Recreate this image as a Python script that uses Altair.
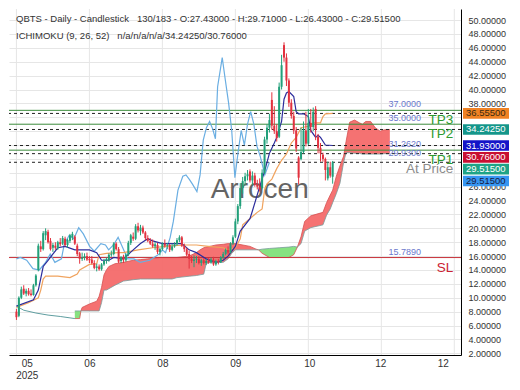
import altair as alt
import pandas as pd

# ---------------- data ----------------
opens = [8.0, 7.4, 10.0, 11.3, 10.6, 11.0, 10.6, 10.4, 11.8, 14.0,
         17.4, 17.0, 19.0, 19.5, 18.2, 17.2, 17.5, 17.1, 18.0, 17.8,
         18.5, 17.6, 18.2, 18.7, 18.8, 17.5, 16.4, 15.6, 15.8, 16.0,
         15.6, 15.5, 15.0, 14.3, 14.5, 14.1, 14.8, 15.3, 15.4, 16.2,
         16.3, 17.8, 17.0, 15.3, 15.9, 15.4, 16.2, 17.9, 18.8, 18.5,
         20.3, 19.6, 20.1, 19.4, 18.6, 18.2, 17.8, 17.4, 17.6, 16.6,
         17.0, 17.8, 17.5, 17.6, 16.9, 17.4, 17.7, 18.3, 18.7, 17.5,
         17.0, 16.3, 15.6, 15.3, 15.5, 15.6, 15.0, 15.4, 15.0, 15.3,
         15.1, 15.5, 14.8, 15.3, 15.1, 15.8, 16.3, 16.9, 16.5, 17.8,
         18.8, 21.0, 23.2, 25.8, 26.8, 27.5, 28.2, 26.9, 27.6, 26.3,
         26.0, 25.8, 28.0, 32.8, 34.5, 38.5, 34.8, 34.0, 33.2, 40.4,
         46.4, 44.6, 41.3, 38.1, 36.2, 34.1, 30.2, 30.0, 31.0, 34.1,
         32.2, 35.2, 34.6, 37.2, 33.2, 31.6, 30.6, 30.0, 27.2, 28.8,
         27.43]
highs = [8.4, 10.2, 11.6, 11.8, 11.3, 11.4, 11.2, 12.0, 13.4, 17.8,
         18.2, 19.6, 20.0, 19.8, 18.6, 17.9, 18.0, 18.2, 18.6, 18.9,
         18.8, 18.5, 19.2, 19.5, 19.0, 17.8, 16.6, 16.5, 16.4, 16.5,
         16.0, 16.0, 15.4, 14.9, 14.8, 15.0, 15.6, 15.8, 16.4, 16.8,
         18.0, 18.0, 17.3, 16.0, 16.2, 16.4, 18.2, 19.2, 19.4, 20.6,
         20.8, 20.5, 20.4, 19.6, 19.0, 18.6, 18.4, 18.0, 17.9, 17.2,
         18.0, 18.4, 17.9, 17.8, 17.8, 18.0, 18.6, 19.0, 18.9, 17.8,
         17.2, 16.8, 16.0, 16.1, 16.0, 16.0, 15.6, 15.7, 15.6, 15.7,
         15.8, 15.9, 15.5, 15.6, 16.0, 16.6, 17.1, 17.4, 18.0, 19.0,
         21.4, 23.5, 26.5, 27.4, 28.0, 28.4, 28.5, 28.2, 28.0, 27.0,
         27.2, 28.5, 33.2, 35.0, 36.5, 39.6, 37.6, 35.0, 41.0, 45.0,
         46.8, 45.2, 41.6, 38.6, 36.8, 34.6, 30.4, 34.5, 35.4, 36.8,
         37.2, 37.2, 37.4, 37.6, 33.6, 32.3, 30.9, 30.2, 29.6, 29.6,
         29.71]
lows = [6.8, 7.2, 9.8, 10.4, 10.2, 10.3, 10.2, 10.3, 11.6, 13.8,
        16.6, 16.8, 18.3, 17.8, 16.8, 16.6, 16.9, 16.9, 17.4, 17.6,
        17.4, 17.2, 17.9, 18.3, 17.6, 16.0, 14.9, 15.3, 15.4, 15.3,
        15.0, 14.8, 14.1, 13.8, 13.9, 13.9, 14.6, 14.9, 15.2, 15.9,
        16.1, 16.8, 15.0, 15.0, 15.0, 15.2, 16.0, 17.6, 18.2, 18.3,
        19.4, 19.0, 19.2, 18.3, 18.0, 17.6, 17.2, 16.9, 16.3, 16.1,
        16.8, 17.2, 17.0, 16.6, 16.7, 17.2, 17.5, 18.0, 17.3, 16.6,
        16.0, 14.2, 15.0, 14.4, 15.0, 14.8, 14.6, 14.8, 14.7, 14.9,
        14.9, 14.6, 14.6, 14.8, 15.0, 15.6, 16.1, 16.2, 16.4, 17.6,
        18.6, 20.6, 22.8, 25.0, 26.2, 26.9, 26.6, 26.2, 26.0, 25.6,
        25.3, 25.6, 27.8, 32.2, 33.8, 34.2, 33.6, 32.5, 33.0, 40.0,
        44.0, 40.5, 37.5, 35.8, 33.6, 31.0, 26.3, 29.8, 30.8, 31.8,
        32.0, 33.8, 34.0, 32.7, 30.8, 29.6, 29.6, 26.9, 26.9, 27.3,
        26.43]
closes = [7.2, 10.0, 11.2, 10.6, 11.0, 10.5, 10.4, 11.8, 13.2, 17.5,
          17.0, 19.3, 19.6, 18.0, 17.0, 17.6, 17.2, 18.0, 17.7, 18.6,
          17.6, 18.3, 19.0, 19.2, 17.8, 16.3, 15.6, 15.8, 16.0, 15.5,
          15.4, 15.0, 14.3, 14.5, 14.1, 14.8, 15.3, 15.6, 16.2, 16.3,
          17.8, 17.0, 15.2, 15.8, 15.4, 16.2, 17.9, 19.0, 18.5, 20.3,
          19.7, 20.1, 19.4, 18.6, 18.2, 17.8, 17.4, 17.7, 16.6, 17.0,
          17.8, 17.5, 17.6, 16.9, 17.4, 17.7, 18.3, 18.7, 17.5, 17.0,
          16.2, 15.6, 15.3, 15.5, 15.6, 15.0, 15.4, 15.0, 15.3, 15.1,
          15.5, 14.8, 15.3, 15.1, 15.8, 16.3, 16.9, 16.5, 17.8, 18.7,
          21.0, 23.2, 25.8, 26.8, 27.5, 27.8, 26.9, 27.6, 26.3, 26.0,
          25.6, 28.0, 32.8, 34.5, 35.6, 34.8, 34.0, 33.0, 40.4, 43.5,
          44.6, 41.3, 38.1, 36.2, 34.1, 31.5, 27.3, 31.0, 34.1, 32.2,
          35.2, 34.6, 36.8, 34.2, 31.6, 30.8, 30.0, 28.4, 28.8, 27.6,
          29.515]

tenkan_i = [0, 7, 9, 11, 13, 17, 20, 24, 30, 33, 35, 38, 40, 44, 48, 51, 54, 56, 60, 68,
            71, 74, 78, 82, 85, 87, 90, 92, 96, 97, 100, 102, 104, 106, 107, 109, 110, 111,
            112, 114, 115, 116, 118, 120, 121, 123, 124, 125, 127, 130]
tenkan_v = [8.8, 9.7, 11.1, 14.5, 15.4, 17.2, 17.4, 16.9, 16.9, 16.5, 15.4, 15.4, 15.8,
            15.6, 16.9, 17.8, 18.5, 18.2, 17.8, 17.8, 16.9, 16.5, 15.6, 15.1, 15.4, 16.0,
            17.4, 19.6, 21.4, 22.5, 26.0, 28.2, 30.8, 32.3, 33.1, 35.4, 38.6, 39.5, 39.7,
            39.0, 36.8, 36.5, 36.5, 36.1, 34.1, 33.1, 33.4, 33.1, 32.0, 31.93]

kijun_i = [0, 5, 9, 10, 11, 12, 17, 22, 25, 26, 30, 33, 34, 37, 42, 44, 50, 56, 61, 69,
           74, 79, 85, 87, 90, 92, 93, 97, 99, 101, 102, 103, 105, 107, 109, 111, 113,
           115, 117, 120, 122, 125, 126, 127, 130]
kijun_v = [8.6, 9.3, 10.0, 11.1, 12.7, 13.1, 13.1, 12.9, 13.4, 14.0, 14.8, 14.9, 16.2,
           16.4, 16.5, 16.5, 16.9, 17.2, 17.4, 17.6, 17.6, 17.4, 17.2, 16.9, 17.2, 18.5,
           20.5, 21.7, 22.3, 22.8, 25.5, 26.4, 27.1, 28.6, 29.8, 30.7, 32.3, 33.1, 34.5,
           34.7, 35.2, 35.2, 36.1, 36.5, 36.555]

chikou_i = [0, 1.6, 4.2, 6.8, 9.4, 12, 13.9, 15.8, 18.5, 19.7, 21.7, 23.6, 25.6, 27.5,
            30.1, 32, 34.7, 36.6, 37.9, 39.9, 41.8, 43.7, 45.7, 48.3, 50.9, 54.8, 58.7,
            60, 61.3, 63.2, 64.5, 66.4, 68.4, 69.7, 71, 72.3, 74.2, 75.5, 76.8, 78.1,
            79.4, 80.7, 81.8, 82.7, 84.6, 85.9, 87.2, 88.5, 89.8, 91.1, 92.4, 93.7, 95,
            96.3, 97.6, 98.9, 100.2, 101.5, 102.1, 104]
chikou_v = [15.6, 15.8, 15.4, 14.2, 14.0, 15.1, 16.3, 15.1, 15.6, 17.8, 19.0, 18.5, 20.1,
            19.2, 17.4, 16.7, 17.8, 17.6, 16.9, 17.6, 18.7, 17.2, 15.6, 15.6, 15.1, 15.4,
            16.3, 16.9, 16.5, 18.7, 21.0, 25.5, 27.5, 27.7, 27.1, 26.4, 25.3, 27.7, 32.7,
            34.5, 35.4, 34.3, 32.9, 40.4, 44.6, 41.3, 38.1, 34.1, 27.3, 30.9, 34.1, 32.0,
            35.0, 36.8, 35.0, 31.8, 30.4, 28.6, 27.7, 29.515]

lead_i = [0, 3, 8, 13, 18, 22, 24]
lead_v = [8.8, 8.2, 7.8, 7.5, 7.3, 7.1, 7.0]

cloud_i = [24, 26, 26.5, 27, 30, 33, 34, 35, 36, 37, 38, 40.5, 44, 48, 51, 54, 59, 64, 66,
           71, 74, 75.5, 77, 78, 79.5, 82, 85, 87, 88.5, 90, 96, 98.5, 99.5, 101, 104,
           108, 112, 114, 115.5, 117, 118.5, 121, 126, 127.5, 129, 130, 131.5, 133,
           134.5, 135.5, 137, 139, 141, 142.2, 143.6, 145.6, 147.5, 149.5, 151.4, 153.5]
span_a = [7.0, 7.0, 8.1, 8.6, 9.1, 9.5, 10.2, 11.5, 13.3, 14.0, 14.5, 14.9, 15.1, 15.4,
          15.5, 15.6, 15.8, 15.8, 15.8, 16.0, 16.5, 16.9, 17.2, 17.3, 17.4, 17.6, 17.7,
          17.8, 17.8, 17.8, 17.4, 17.0, 16.9, 16.4, 15.8, 15.8, 15.8, 16.2, 17.3, 18.8,
          21.0, 21.8, 22.3, 23.7, 24.8, 25.5, 27.5, 29.0, 30.4, 32.5, 35.3, 35.6, 35.2,
          35.0, 35.4, 35.4, 34.5, 34.0, 34.2, 34.2425]
span_b = [8.1, 8.1, 8.1, 8.1, 8.1, 8.1, 8.1, 9.3, 11.1, 11.1, 11.3, 11.8, 12.4, 12.6,
          12.7, 12.7, 12.7, 12.7, 12.9, 13.1, 13.2, 13.3, 13.4, 14.9, 15.1, 15.1, 15.1,
          15.6, 16.4, 16.9, 16.9, 16.9, 16.9, 17.0, 17.1, 17.2, 17.3, 17.4, 17.3, 17.8,
          19.6, 20.1, 20.5, 21.9, 22.8, 23.7, 25.0, 26.5, 29.5, 30.9, 30.9, 30.8, 30.8,
          30.7, 30.7, 30.7, 30.7, 30.7, 30.76, 30.76]

green_levels = [37.0, 35.0, 31.262]
dashed_levels = [36.555, 34.2425, 31.93, 30.76, 29.515]
sl_level = [15.789]

level_vals = [37.0, 35.0, 31.262, 29.93, 15.789]
level_txt = ["37.0000", "35.0000", "31.2620", "29.9300", "15.7890"]
tag_txt = ["TP3", "TP2", "TP1", "At Price", "SL"]

box_vals = [36.555, 34.2425, 31.93, 30.76, 29.515, 29.515]
box_txt = ["36.55500", "34.24250", "31.93000", "30.76000", "29.51500", "29.51500"]

grid_x = [0, 30, 60, 90, 120, 150, 180]
xlab_pos = [4.25, 30, 60, 90, 120.4, 149.6, 175.3]
ytick_vals = [2, 4, 6, 8, 10, 12, 14, 16, 18, 20, 22, 24, 26, 28, 30, 32, 34, 36, 38,
              40, 42, 44, 46, 48, 50]

SP = "\u00a0\u00a0\u00a0"
header1 = "QBTS - Daily - Candlestick" + SP + "130/183 - O:27.43000 - H:29.71000 - L:26.43000 - C:29.51500"
header2 = "ICHIMOKU (9, 26, 52)" + SP + "n/a/n/a/n/a/34.24250/30.76000"
watermark = "Arrocen"

# ---------------- styles / layout ----------------
W, H = 452, 346
XD = [-1, 180.7]
YD = [1.75, 51.6]
FONT = "Liberation Sans"
UP, DOWN = "#22a07a", "#e2323f"
tag_colors = ["#2e9a2e", "#2e9a2e", "#2e9a2e", "#8c8c8c", "#cc2233"]
box_fill = ["#f08224", "#14968a", "#1414c8", "#c80f32", "#1fa386", "#3796f2"]
box_font = ["#3a2a10", "#ffffff", "#ffffff", "#ffffff", "#ffffff", "#1a1a40"]

xs = alt.Scale(domain=XD, nice=False, zero=False)
ys = alt.Scale(domain=YD, nice=False, zero=False)
kpx = H / (YD[1] - YD[0])

x_axis = alt.Axis(values=xlab_pos, grid=False, ticks=False, domain=True, domainColor="#000",
                  labelExpr="datum.value < 10 ? ['05', '2025'] : datum.value < 45 ? '06' : "
                            "datum.value < 75 ? '08' : datum.value < 105 ? '09' : "
                            "datum.value < 135 ? '10' : '12'",
                  labelFont=FONT, labelFontSize=10, labelColor="#333", labelPadding=3,
                  labelFlush=False, labelOverlap=False, title=None)
# labels hidden behind the price boxes are left blank
y_axis = alt.Axis(orient="right", values=ytick_vals, format=".5f", grid=True,
                  gridColor="#e6e6e6", ticks=False, domain=True, domainColor="#000",
                  labelExpr="indexof([28, 30, 32, 34, 36], datum.value) >= 0 ? '' : datum.label",
                  labelFont=FONT, labelFontSize=9, labelColor="#333", labelPadding=7,
                  labelAlign="left", labelFlush=False, labelOverlap=False, title=None)


def X(f):
    return alt.X(f, scale=xs, axis=x_axis)


def Y(f):
    return alt.Y(f, scale=ys, axis=y_axis)


# ---------------- tables ----------------
cdf = pd.DataFrame({"i": list(range(len(closes))), "open": opens, "high": highs,
                    "low": lows, "close": closes})

rows, seg, cur, carry = [], -1, None, None
for ci, a, b in zip(cloud_i, span_a, span_b):
    kind = "red" if a > b else ("green" if a < b else None)
    if kind is None:
        if cur is not None:
            rows.append(dict(i=ci, a=a, b=b, seg=seg, kind=cur))
        carry, cur = (ci, a, b), None
        continue
    if kind != cur:
        seg += 1
        cur = kind
        if carry is not None:
            rows.append(dict(i=carry[0], a=carry[1], b=carry[2], seg=seg, kind=kind))
            carry = None
    rows.append(dict(i=ci, a=a, b=b, seg=seg, kind=kind))
cloud_df = pd.DataFrame(rows)

# stacked price boxes on the right axis (pixel spacing, converted back to values)
box_h, box_gap = 10.6, 11.8
centers, prev = [], None
for v in box_vals:
    px = (YD[1] - v) * kpx
    if prev is not None and px < prev + box_gap:
        px = prev + box_gap
    centers.append(px)
    prev = px
box_df = pd.DataFrame({
    "v": box_vals, "t": box_txt, "fill": box_fill, "fc": box_font,
    "mid": [YD[1] - c / kpx for c in centers],
    "top": [YD[1] - (c - box_h / 2) / kpx for c in centers],
    "bot": [YD[1] - (c + box_h / 2) / kpx for c in centers],
})

lab_df = pd.DataFrame({"v": level_vals, "t": level_txt, "tag": tag_txt, "c": tag_colors})
one = pd.DataFrame({"h1": [header1], "h2": [header2], "w": [watermark]})

# ---------------- layers ----------------
vgrid = alt.Chart(pd.DataFrame({"gx": grid_x})).mark_rule(color="#e6e6e6").encode(
    x=X("gx:Q"), y=alt.value(0), y2=alt.value(H))

cloud = alt.Chart(cloud_df).mark_area(opacity=0.95).encode(
    x=X("i:Q"), y=Y("a:Q"), y2="b:Q",
    color=alt.Color("kind:N", scale=alt.Scale(domain=["red", "green"],
                                             range=["#f46a6a", "#80e07a"]), legend=None),
    detail="seg:N")
cloud_a = alt.Chart(cloud_df).mark_line(strokeWidth=0.8, color="#d65050").encode(
    x=X("i:Q"), y=Y("a:Q"), detail="seg:N")
cloud_b = alt.Chart(cloud_df).mark_line(strokeWidth=0.8, color="#7a9a9a").encode(
    x=X("i:Q"), y=Y("b:Q"), detail="seg:N")

lead = alt.Chart(pd.DataFrame({"i": lead_i, "v": lead_v})).mark_line(
    color="#5f9ea0", strokeWidth=1).encode(x=X("i:Q"), y=Y("v:Q"))

wm = alt.Chart(one).mark_text(font=FONT, fontSize=28, color="#4a4a4a", opacity=0.85,
                              align="center", baseline="middle").encode(
    x=alt.value(W * 259 / 467), y=alt.value(H * 193 / 369), text="w:N")

green_rules = alt.Chart(pd.DataFrame({"v": green_levels})).mark_rule(
    color="#3c8c3c", strokeWidth=1).encode(y=Y("v:Q"))
dash_rules = alt.Chart(pd.DataFrame({"v": dashed_levels})).mark_rule(
    color="#222", strokeWidth=1, strokeDash=[3, 3]).encode(y=Y("v:Q"))
sl_rule = alt.Chart(pd.DataFrame({"v": sl_level})).mark_rule(
    color="#c8323a", strokeWidth=1).encode(y=Y("v:Q"))

chikou = alt.Chart(pd.DataFrame({"i": chikou_i, "v": chikou_v})).mark_line(
    color="#6aaee2", strokeWidth=1.2).encode(x=X("i:Q"), y=Y("v:Q"))
kijun = alt.Chart(pd.DataFrame({"i": kijun_i, "v": kijun_v})).mark_line(
    color="#f0a35e", strokeWidth=1.2).encode(x=X("i:Q"), y=Y("v:Q"))
tenkan = alt.Chart(pd.DataFrame({"i": tenkan_i, "v": tenkan_v})).mark_line(
    color="#2c2c9c", strokeWidth=1.2).encode(x=X("i:Q"), y=Y("v:Q"))

cond = alt.condition("datum.close >= datum.open", alt.value(UP), alt.value(DOWN))
wicks = alt.Chart(cdf).mark_rule(strokeWidth=1).encode(
    x=X("i:Q"), y=Y("low:Q"), y2="high:Q", color=cond)
bodies = alt.Chart(cdf).mark_bar(size=2).encode(
    x=X("i:Q"), y=Y("open:Q"), y2="close:Q", color=cond)

lvl_text = alt.Chart(lab_df).mark_text(font=FONT, fontSize=9, color="#6a78cc",
                                       align="left", baseline="bottom", dy=-1).encode(
    x=alt.value(W * 392 / 467), y=Y("v:Q"), text="t:N")
tag_text = alt.Chart(lab_df).mark_text(font=FONT, fontSize=13.5, align="right",
                                       baseline="top", dy=3).encode(
    x=alt.value(W * 459 / 467), y=Y("v:Q"), text="tag:N",
    color=alt.Color("c:N", scale=None))

boxes = alt.Chart(box_df).mark_rect().encode(
    x=alt.value(W + 2), x2=alt.value(W + 48),
    y=Y("top:Q"), y2="bot:Q",
    color=alt.Color("fill:N", scale=None))
box_text = alt.Chart(box_df).mark_text(font=FONT, fontSize=9.5, align="left",
                                       baseline="middle").encode(
    x=alt.value(W + 5), y=Y("mid:Q"), text="t:N",
    color=alt.Color("fc:N", scale=None))

head1 = alt.Chart(one).mark_text(font=FONT, fontSize=9.5, color="#333", align="left",
                                 baseline="middle").encode(
    x=alt.value(7), y=alt.value(10), text="h1:N")
head2 = alt.Chart(one).mark_text(font=FONT, fontSize=9.5, color="#333", align="left",
                                 baseline="middle").encode(
    x=alt.value(7), y=alt.value(27), text="h2:N")

chart = alt.layer(
    vgrid, cloud, cloud_a, cloud_b, lead, wm,
    green_rules, dash_rules, sl_rule,
    chikou, kijun, tenkan, wicks, bodies,
    lvl_text, tag_text, boxes, box_text, head1, head2,
).properties(
    width=W, height=H, padding={"left": 0, "top": 0, "right": 0, "bottom": 0},
    background="white",
).configure_view(stroke=None)

chart.save("out.html", embed_options={"renderer": "svg", "actions": False})
